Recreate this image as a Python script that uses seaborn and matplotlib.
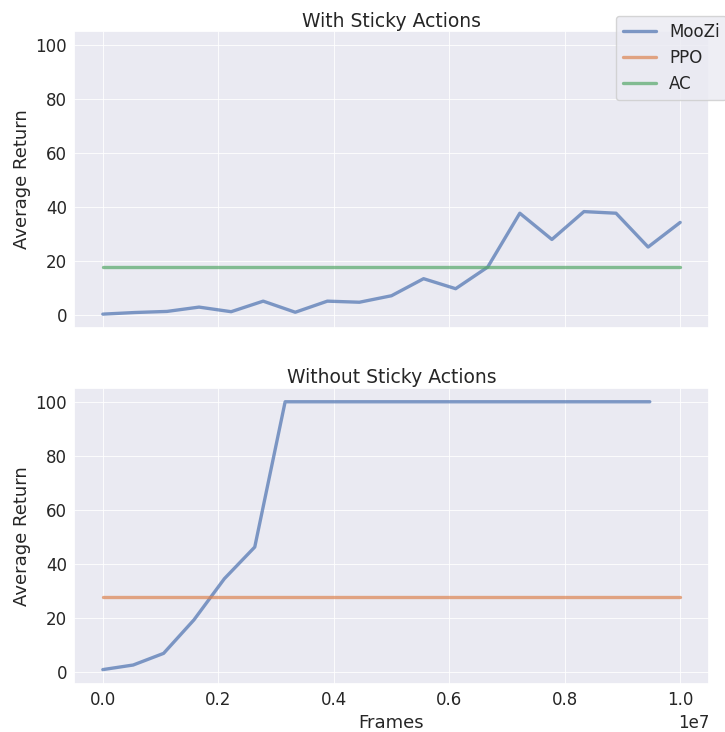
import numpy as np
import pandas as pd
import seaborn as sns
import matplotlib
matplotlib.use("Agg")
import matplotlib.pyplot as plt

# ---- data ----
sticky_frames = [i * 1e7 / 18 for i in range(19)]
sticky_moozi = [0.5, 1.1, 1.5, 3.1, 1.4, 5.3, 1.2, 5.3, 4.9, 7.3, 13.6, 9.9,
                17.9, 37.8, 28.1, 38.4, 37.8, 25.3, 34.4]
sticky_ac = 18.0

nosticky_frames = [i * 1e7 / 19 for i in range(19)]
nosticky_moozi = [1.0, 2.7, 7.0, 19.4, 34.6, 46.3, 100, 100, 100, 100, 100, 100,
                  100, 100, 100, 100, 100, 100, 100]
nosticky_ppo = 28.0

baseline_frames = [0, 1e7]

sns.set_theme(style="darkgrid", rc={
    "xtick.labelsize": 12, "ytick.labelsize": 12,
    "axes.labelsize": 13, "axes.titlesize": 13.5,
    "legend.fontsize": 12, "grid.linewidth": 0.6,
    "xtick.major.pad": 5.0, "ytick.major.pad": 5.0,
    "xtick.major.size": 0, "ytick.major.size": 0,
    "axes.labelpad": 3.0, "axes.titlepad": 3.5,
})

palette = sns.color_palette("deep")
fig, (ax1, ax2) = plt.subplots(2, 1, sharex=True, sharey=True, figsize=(7.25, 7.32), dpi=100)
fig.subplots_adjust(left=0.102, right=0.978, top=0.957, bottom=0.065, hspace=0.205)

lw = 2.4
alpha = 0.7
sns.lineplot(x=sticky_frames, y=sticky_moozi, ax=ax1, color=palette[0], lw=lw, alpha=alpha, label="MooZi")
sns.lineplot(x=baseline_frames, y=[sticky_ac] * 2, ax=ax1, color=palette[2], lw=lw, alpha=alpha, label="AC")

sns.lineplot(x=nosticky_frames, y=nosticky_moozi, ax=ax2, color=palette[0], lw=lw, alpha=alpha)
sns.lineplot(x=baseline_frames, y=[nosticky_ppo] * 2, ax=ax2, color=palette[1], lw=lw, alpha=alpha, label="PPO")

h1, l1 = ax1.get_legend_handles_labels()
h2, l2 = ax2.get_legend_handles_labels()
ax1.get_legend().remove()
ax2.get_legend().remove()
handles = [h1[0], h2[0], h1[1]]
labels = [l1[0], l2[0], l1[1]]
fig.legend(handles, labels, loc="upper left", bbox_to_anchor=(616 / 725, 1 - 16 / 732),
           borderaxespad=0)

ax1.set_title("With Sticky Actions")
ax2.set_title("Without Sticky Actions")
ax1.set_ylabel("Average Return")
ax2.set_ylabel("Average Return")
ax2.set_xlabel("Frames")
ax2.set_yticks([0, 20, 40, 60, 80, 100])

fig.savefig("out.png", dpi=100)
